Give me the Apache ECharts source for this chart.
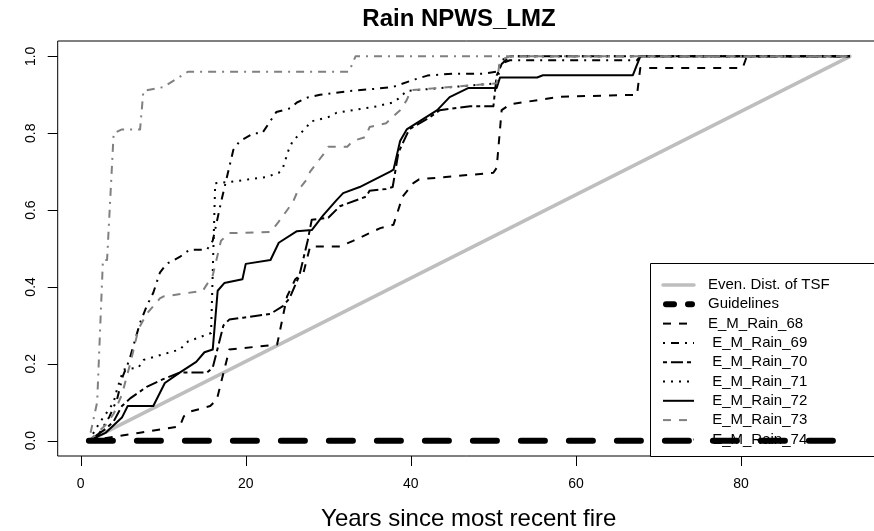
<!DOCTYPE html>
<html>
<head>
<meta charset="utf-8">
<script src="https://cdn.jsdelivr.net/npm/echarts@6/dist/echarts.min.js"></script>
<style>
  html, body { margin: 0; padding: 0; background: #fff; }
  #chart { width: 874px; height: 531px; }
</style>
</head>
<body>
<div id="chart"></div>
<script>
// Cumulative proportion of area by years since most recent fire, per rainfall class
const xTicks = [0, 20, 40, 60, 80];
const yTicks = [0, 0.2, 0.4, 0.6, 0.8, 1.0];
const X_MIN = -2.78, X_MAX = 96.8, Y_MIN = -0.04, Y_MAX = 1.04;

const evenDist = [[1, 0], [93.2, 1]];
const guidelines = [[1, 0], [93.2, 0]];

const rain68 = [[1,0],[4,0.01],[7,0.02],[12,0.037],[12.5,0.063],[13,0.074],[15.7,0.09],[16.5,0.107],[17.7,0.21],[18,0.237],[23.8,0.25],[25,0.375],[26,0.42],[27,0.437],[27.5,0.48],[27.8,0.505],[31.4,0.505],[33,0.52],[36.3,0.553],[37.9,0.562],[39,0.635],[40.3,0.67],[41,0.68],[50,0.697],[50.4,0.71],[51,0.86],[52,0.875],[58,0.895],[67.4,0.90],[67.8,0.97],[80.2,0.97],[80.7,1.0],[93.2,1.0]];
const rain69 = [[1,0],[2,0.01],[3.5,0.063],[4.4,0.107],[5.1,0.167],[5.9,0.21],[7.2,0.307],[8,0.35],[8.8,0.385],[9.6,0.437],[10.4,0.46],[12,0.478],[13.2,0.497],[15.3,0.497],[16,0.52],[17,0.62],[18.5,0.757],[19.3,0.78],[21,0.80],[22,0.80],[23.7,0.855],[25.4,0.865],[26.2,0.88],[27.5,0.893],[29,0.90],[32.6,0.91],[35.4,0.915],[37.8,0.92],[39.8,0.935],[40.5,0.94],[42,0.95],[45,0.955],[48.8,0.955],[50.4,0.96],[50.8,0.98],[52,0.99],[67.4,0.99],[67.8,1.0],[93.2,1.0]];
const rain70 = [[1,0],[3,0.03],[4,0.05],[5,0.09],[6,0.11],[8,0.14],[10,0.16],[12,0.177],[15.3,0.177],[16,0.19],[17.3,0.30],[18,0.315],[19.7,0.32],[23,0.33],[24.5,0.35],[25.3,0.37],[26.5,0.43],[27.5,0.52],[28,0.575],[30,0.58],[31.4,0.61],[34.6,0.635],[35,0.65],[37,0.655],[37.8,0.66],[38.5,0.75],[39.8,0.81],[42.2,0.84],[43.5,0.86],[47.2,0.87],[50,0.87],[50.4,0.95],[51,0.98],[52,1.0],[93.2,1.0]];
const rain71 = [[1,0],[2.3,0.047],[3.2,0.074],[4,0.10],[4.4,0.133],[4.8,0.16],[5.2,0.185],[7,0.19],[7.6,0.21],[12,0.237],[13,0.258],[15.3,0.276],[15.8,0.28],[16.3,0.67],[18,0.673],[22.5,0.686],[24,0.697],[24.5,0.71],[25.2,0.757],[25.7,0.78],[27.4,0.816],[27.8,0.83],[30,0.842],[31,0.853],[35.9,0.87],[37.8,0.88],[38.5,0.89],[39.5,0.91],[50.4,0.93],[51,0.99],[52,1.0],[93.2,1.0]];
const rain72 = [[1,0],[3,0.02],[4,0.04],[5,0.06],[5.7,0.09],[8.8,0.09],[10.2,0.15],[12,0.177],[14,0.205],[15,0.23],[16,0.237],[16.6,0.39],[17.4,0.41],[19.6,0.42],[20,0.46],[23,0.47],[24,0.515],[26.2,0.545],[28,0.548],[29.4,0.587],[31,0.626],[31.8,0.644],[33.8,0.66],[37.5,0.70],[37.9,0.705],[38.7,0.78],[39.5,0.81],[43.2,0.86],[44.7,0.894],[47,0.918],[50.4,0.918],[50.8,0.945],[55.3,0.945],[56,0.951],[66.9,0.951],[67.8,1.0],[93.2,1.0]];
const rain73 = [[1,0],[3,0.04],[4,0.07],[5,0.12],[6,0.20],[7,0.29],[8,0.33],[9.6,0.37],[10,0.375],[14.8,0.39],[16,0.43],[17,0.52],[18,0.54],[23,0.543],[24,0.57],[25.7,0.62],[26.3,0.65],[27.4,0.68],[27.8,0.70],[29.4,0.745],[30,0.765],[32.3,0.765],[33,0.78],[34.5,0.79],[35,0.816],[37,0.826],[38.7,0.86],[39.5,0.886],[40,0.912],[50.4,0.93],[50.8,0.99],[52,1.0],[93.2,1.0]];
const rain74 = [[1,0],[2,0.10],[2.7,0.47],[3.2,0.47],[4,0.80],[5,0.81],[7.2,0.81],[7.6,0.91],[10,0.92],[11.5,0.94],[13,0.96],[32.5,0.96],[33.3,1.0],[93.2,1.0]];

const seriesNames = ['Even. Dist. of TSF', 'Guidelines', 'E_M_Rain_68', ' E_M_Rain_69', ' E_M_Rain_70', ' E_M_Rain_71', ' E_M_Rain_72', ' E_M_Rain_73', ' E_M_Rain_74'];
const seriesData = [evenDist, guidelines, rain68, rain69, rain70, rain71, rain72, rain73, rain74];

// line styles in the order of seriesNames (R-like lty patterns at lwd 2)
const styles = [
  { color: '#bebebe', width: 3.5, type: 'solid', cap: 'round' },
  { color: '#000000', width: 6, type: [24, 24], cap: 'round' },
  { color: '#000000', width: 2, type: [8, 8], cap: 'butt' },
  { color: '#000000', width: 2, type: [2, 6, 8, 6], cap: 'butt' },
  { color: '#000000', width: 2, type: [4, 4, 12, 4], cap: 'butt' },
  { color: '#000000', width: 2, type: [2, 6], cap: 'butt' },
  { color: '#000000', width: 2, type: 'solid', cap: 'butt' },
  { color: '#808080', width: 2, type: [8, 8], cap: 'butt' },
  { color: '#808080', width: 2, type: [2, 6, 8, 6], cap: 'butt' }
];

const FONT = '"Liberation Sans", Arial, Helvetica, sans-serif';
const TICK_LEN = 10;
const GRID = { left: 57.7, top: 41, width: 822, height: 415 };

// plot-region mapping that mirrors the grid and axis extents below
const px = v => GRID.left + (v - X_MIN) / (X_MAX - X_MIN) * GRID.width;
const py = v => GRID.top + (Y_MAX - v) / (Y_MAX - Y_MIN) * GRID.height;

const chart = echarts.init(document.getElementById('chart'), null, { renderer: 'canvas' });

const series = seriesData.map((d, i) => ({
  name: seriesNames[i],
  type: 'line',
  data: d,
  symbol: 'none',
  z: i === 1 ? 5 : 2,
  lineStyle: {
    color: styles[i].color,
    width: styles[i].width,
    type: styles[i].type,
    cap: styles[i].cap,
    join: 'round'
  }
}));

// legend box, clipped at the bottom edge of the plot region
const legX = 650, legY = 263, rowH = 19.3, firstRow = 285;
const legendEls = [{
  type: 'rect',
  shape: { x: legX + 0.5, y: legY + 0.5, width: 260, height: 193 },
  style: { fill: '#ffffff', stroke: '#000000', lineWidth: 1 },
  z: 1
}];
seriesNames.forEach((name, i) => {
  const y = firstRow + i * rowH;
  const st = styles[i];
  legendEls.push({
    type: 'line',
    shape: i === 1 ? { x1: 666, y1: y, x2: 692, y2: y } : { x1: 663, y1: y, x2: 694, y2: y },
    style: {
      stroke: st.color,
      lineWidth: st.width,
      lineDash: i === 1 ? [8, 14] : (Array.isArray(st.type) ? st.type : null),
      lineCap: st.cap
    },
    z: 1
  });
  legendEls.push({
    type: 'text',
    x: 708, y: y,
    style: { text: name, fill: '#000', font: '15px ' + FONT, textVerticalAlign: 'middle', textAlign: 'left' },
    z: 1
  });
});

// outward tick marks on the bottom and left edges of the plot region
const tickEls = [];
xTicks.forEach(v => {
  const x = Math.round(px(v)) + 0.5;
  const yb = GRID.top + GRID.height;
  tickEls.push({ type: 'rect', shape: { x: x - 0.5, y: yb, width: 1, height: TICK_LEN }, style: { fill: '#000' }, z: 50 });
});
yTicks.forEach(v => {
  const y = Math.round(py(v));
  tickEls.push({ type: 'rect', shape: { x: GRID.left - TICK_LEN, y: y, width: TICK_LEN, height: 1 }, style: { fill: '#000' }, z: 50 });
});

chart.setOption({
  animation: false,
  backgroundColor: '#ffffff',
  grid: { left: GRID.left, top: GRID.top, width: GRID.width, height: GRID.height, show: true, borderColor: '#000', borderWidth: 1, backgroundColor: 'transparent', containLabel: false, outerBoundsMode: 'none' },
  xAxis: {
    type: 'value', min: X_MIN, max: X_MAX, position: 'bottom',
    name: 'Years since most recent fire', nameLocation: 'middle', nameGap: 51,
    nameTextStyle: { fontFamily: FONT, fontSize: 24, color: '#000' },
    splitLine: { show: false },
    axisLine: { show: false, onZero: false },
    axisTick: { show: false },
    axisLabel: { customValues: xTicks, margin: 21, fontFamily: FONT, fontSize: 14, color: '#000', formatter: v => String(v) }
  },
  yAxis: {
    type: 'value', min: Y_MIN, max: Y_MAX, position: 'left',
    splitLine: { show: false },
    axisLine: { show: false, onZero: false },
    axisTick: { show: false },
    axisLabel: { customValues: yTicks, rotate: 90, margin: 20, fontFamily: FONT, fontSize: 14, color: '#000', formatter: v => v.toFixed(1) }
  },
  graphic: [
    { type: 'text', x: 459, y: 19, style: { text: 'Rain NPWS_LMZ', fill: '#000', font: 'bold 24px ' + FONT, textAlign: 'center', textVerticalAlign: 'middle' } },
    { type: 'group', children: legendEls },
    { type: 'group', children: tickEls }
  ],
  series: series
});
</script>
</body>
</html>
